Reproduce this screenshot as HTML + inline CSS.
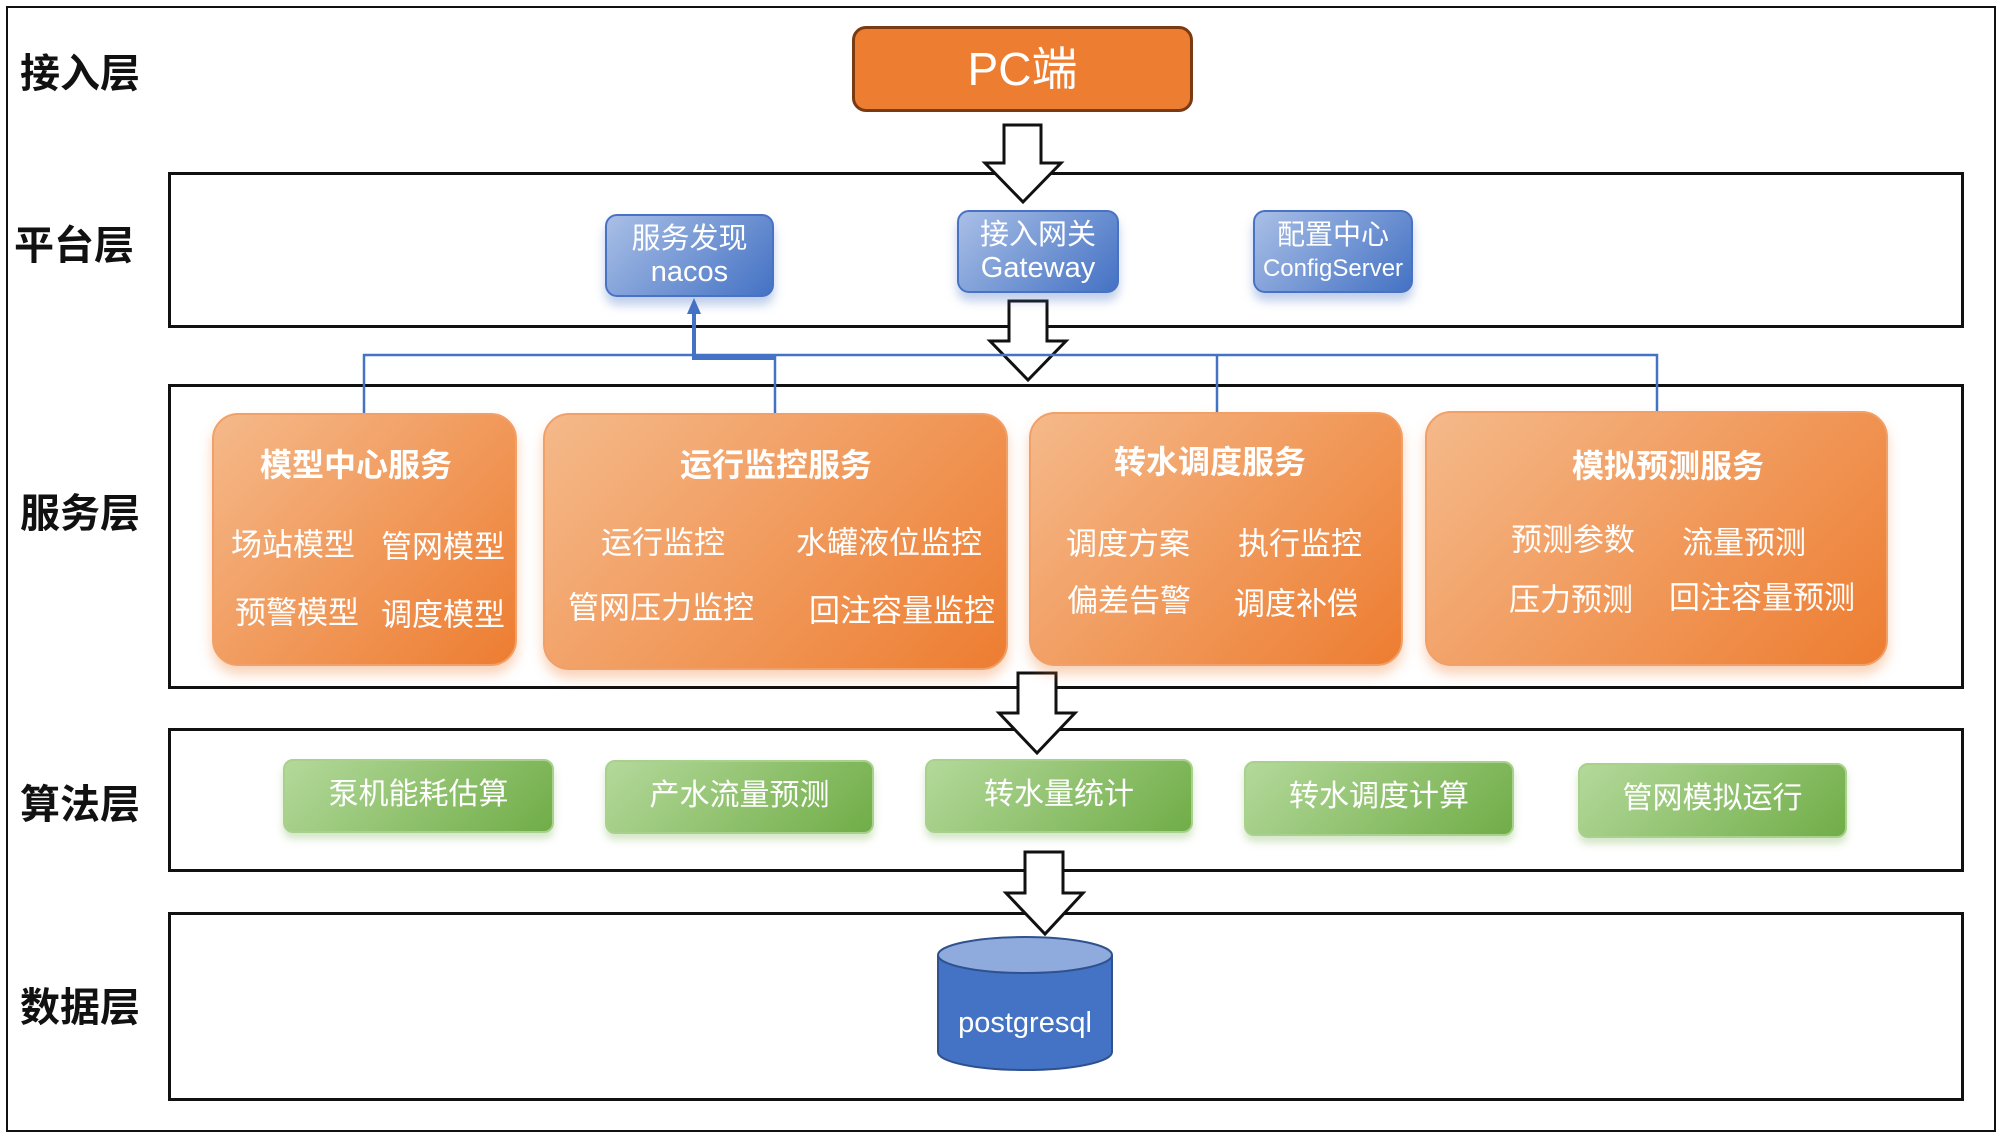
<!DOCTYPE html>
<html><head><meta charset="utf-8"><style>
*{margin:0;padding:0;box-sizing:border-box}
body{width:2000px;height:1136px;background:#fff;position:relative;overflow:hidden;font-family:"Liberation Sans","Noto Sans CJK SC",sans-serif}
.a{position:absolute}
.frame{position:absolute;border:3px solid #111}
.lab{position:absolute;font-size:40px;font-weight:bold;color:#111;left:20px;width:140px;line-height:42px}
.blue{position:absolute;border:2px solid #4a72c4;border-radius:12px;background:linear-gradient(135deg,#a9bfe6,#4472c4);color:#fff;text-align:center;box-shadow:0 8px 10px rgba(68,114,196,.35);line-height:33px;font-size:29px}
.or{position:absolute;border:2px solid #f0a068;border-radius:26px;background:linear-gradient(135deg,#f5b98a,#ed7d31);box-shadow:0 8px 12px rgba(237,125,49,.35)}
.t{position:absolute;color:#fff;white-space:nowrap;transform:translate(-50%,-50%);font-size:31px}
.tt{font-weight:bold;font-size:32px}
.g{position:absolute;border:2px solid #a9d18e;border-radius:10px;background:linear-gradient(135deg,#b4d99b,#70ad47);color:#fff;font-size:30px;text-align:center;box-shadow:0 6px 8px rgba(112,173,71,.3)}
</style></head><body>
<div class="frame" style="left:6px;top:6px;width:1990px;height:1126px;border-width:2px"></div>
<div class="frame" style="left:168px;top:172px;width:1796px;height:156px"></div>
<div class="frame" style="left:168px;top:384px;width:1796px;height:305px"></div>
<div class="frame" style="left:168px;top:728px;width:1796px;height:144px"></div>
<div class="frame" style="left:168px;top:912px;width:1796px;height:189px"></div>

<div class="lab" style="top:53px">接入层</div>
<div class="lab" style="top:225px;left:14px">平台层</div>
<div class="lab" style="top:493px">服务层</div>
<div class="lab" style="top:784px">算法层</div>
<div class="lab" style="top:987px">数据层</div>

<div class="a" style="left:852px;top:26px;width:341px;height:86px;background:#ed7d31;border:3px solid #7a3a12;border-radius:14px;color:#fff;font-size:46px;text-align:center;line-height:80px">PC端</div>

<svg class="a" style="left:0;top:0" width="2000" height="1136">
<g fill="#fff" stroke="#111" stroke-width="3">
<polygon points="1004,125 1041,125 1041,163 1061,163 1023,202 985,163 1004,163"/>
<polygon points="1009,301 1047,301 1047,341 1066,341 1028,380 990,341 1009,341"/>
<polygon points="1018,673 1056,673 1056,713 1075,713 1037,753 999,713 1018,713"/>
<polygon points="1025,852 1063,852 1063,893 1083,893 1045,934 1006,893 1025,893"/>
</g>
<g stroke="#4472c4" stroke-width="2.5" fill="none">
<polyline points="364,413 364,355 1657,355 1657,413"/>
<line x1="775" y1="355" x2="775" y2="418"/>
<line x1="1217" y1="355" x2="1217" y2="413"/>
<polyline points="694,310 694,358 775,358" stroke-width="4"/>
</g>
<polygon points="694,298 687,314 701,314" fill="#4472c4"/>
</svg>

<div class="blue" style="left:605px;top:214px;width:169px;height:83px;padding-top:7px">服务发现<br>nacos</div>
<div class="blue" style="left:957px;top:210px;width:162px;height:83px;padding-top:7px">接入网关<br>Gateway</div>
<div class="blue" style="left:1253px;top:210px;width:160px;height:83px;padding-top:7px;font-size:28px;line-height:32px">配置中心<br><span style="font-size:24px">ConfigServer</span></div>

<div class="or" style="left:212px;top:413px;width:305px;height:253px"></div>
<div class="or" style="left:543px;top:413px;width:465px;height:257px"></div>
<div class="or" style="left:1029px;top:412px;width:374px;height:254px"></div>
<div class="or" style="left:1425px;top:411px;width:463px;height:255px"></div>

<div class="t tt" style="left:356px;top:463px">模型中心服务</div>
<div class="t" style="left:293px;top:542px">场站模型</div>
<div class="t" style="left:443px;top:544px">管网模型</div>
<div class="t" style="left:297px;top:610px">预警模型</div>
<div class="t" style="left:443px;top:612px">调度模型</div>

<div class="t tt" style="left:776px;top:463px">运行监控服务</div>
<div class="t" style="left:663px;top:540px">运行监控</div>
<div class="t" style="left:889px;top:540px">水罐液位监控</div>
<div class="t" style="left:661px;top:605px">管网压力监控</div>
<div class="t" style="left:902px;top:608px">回注容量监控</div>

<div class="t tt" style="left:1210px;top:460px">转水调度服务</div>
<div class="t" style="left:1128px;top:541px">调度方案</div>
<div class="t" style="left:1300px;top:541px">执行监控</div>
<div class="t" style="left:1129px;top:598px">偏差告警</div>
<div class="t" style="left:1296px;top:601px">调度补偿</div>

<div class="t tt" style="left:1668px;top:464px">模拟预测服务</div>
<div class="t" style="left:1573px;top:537px">预测参数</div>
<div class="t" style="left:1744px;top:540px">流量预测</div>
<div class="t" style="left:1571px;top:597px">压力预测</div>
<div class="t" style="left:1762px;top:595px">回注容量预测</div>

<div class="g" style="left:283px;top:759px;width:271px;height:74px;line-height:68px">泵机能耗估算</div>
<div class="g" style="left:605px;top:760px;width:269px;height:74px;line-height:68px">产水流量预测</div>
<div class="g" style="left:925px;top:759px;width:268px;height:74px;line-height:68px">转水量统计</div>
<div class="g" style="left:1244px;top:761px;width:270px;height:75px;line-height:68px">转水调度计算</div>
<div class="g" style="left:1578px;top:763px;width:269px;height:75px;line-height:68px">管网模拟运行</div>

<svg class="a" style="left:930px;top:930px" width="190" height="150">
<path d="M8,25 L8,122 A87,18 0 0 0 182,122 L182,25" fill="#4472c4" stroke="#2f528f" stroke-width="2"/>
<ellipse cx="95" cy="25" rx="87" ry="18" fill="#8faadc" stroke="#2f528f" stroke-width="2"/>
<text x="95" y="102" fill="#fff" font-size="29" text-anchor="middle" font-family="Liberation Sans, sans-serif">postgresql</text>
</svg>
</body></html>
